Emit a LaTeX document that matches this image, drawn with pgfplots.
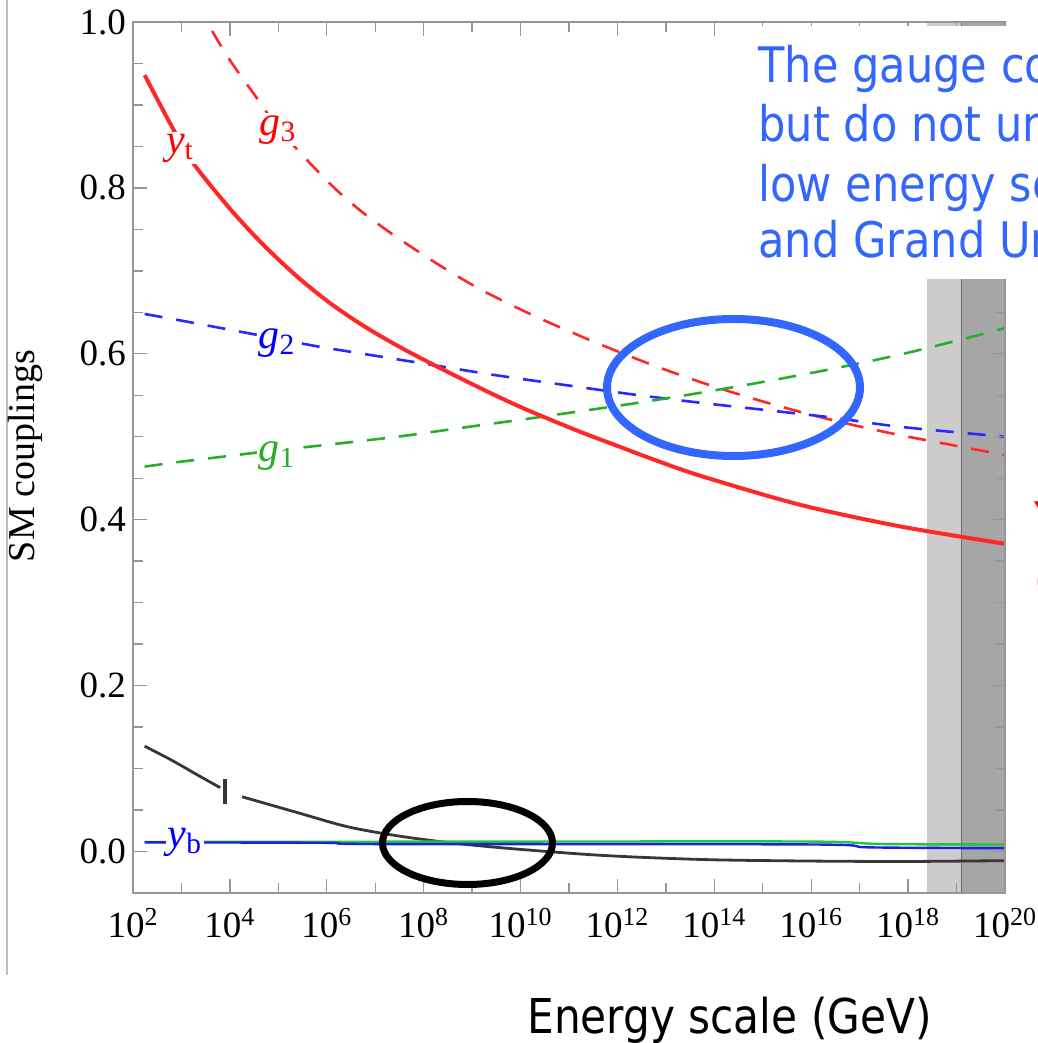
\documentclass[border=0pt]{standalone}
\usepackage{fontspec}
\setmainfont{Liberation Serif}
\newfontfamily\tahoma[FakeStretch=0.88]{DejaVu Sans}
\usepackage{pgfplots}
\pgfplotsset{compat=1.18}
\definecolor{cred}{RGB}{255,40,40}
\definecolor{cblue}{RGB}{40,40,255}
\definecolor{cgreen}{RGB}{40,175,40}
\definecolor{cblack}{RGB}{55,55,55}
\definecolor{ybcol}{RGB}{30,30,230}
\definecolor{gsolid}{RGB}{30,200,60}
\definecolor{annblue}{RGB}{51,102,255}
\definecolor{lightband}{RGB}{204,204,204}
\definecolor{darkband}{RGB}{166,166,166}
\definecolor{framecol}{RGB}{150,150,150}
\begin{document}
\begin{tikzpicture}
\useasboundingbox (0,0) rectangle (519bp,521.5bp);
\draw[color={rgb,255:red,190;green,190;blue,190}, line width=1bp] (3.5bp,521.5bp) -- (3.5bp,34bp);
\begin{axis}[
  at={(66.5bp,75bp)}, anchor=south west, scale only axis,
  width=436bp, height=435.5bp,
  xmin=2, xmax=20, ymin=-0.05, ymax=1.0,
  xtick={2,4,6,8,10,12,14,16,18,20},
  xticklabels={10\textsuperscript{2},10\textsuperscript{4},10\textsuperscript{6},10\textsuperscript{8},10\textsuperscript{10},10\textsuperscript{12},10\textsuperscript{14},10\textsuperscript{16},10\textsuperscript{18},10\textsuperscript{20}},
  minor xtick={3,5,7,9,11,13,15,17,19},
  ytick={0,0.2,0.4,0.6,0.8,1.0},
  yticklabels={0.0,0.2,0.4,0.6,0.8,1.0},
  minor ytick={0.05,0.1,0.15,0.25,0.3,0.35,0.45,0.5,0.55,0.65,0.7,0.75,0.85,0.9,0.95},
  tick align=inside,
  major tick length=7bp, minor tick length=5bp,
  tick style={color=framecol, line width=0.7bp},
  axis line style={color=framecol, line width=1bp},
  ticklabel style={font=\fontsize{18.5bp}{20bp}\selectfont},
  xticklabel style={yshift=-4bp},
  axis on top,
]
% Planck-scale bands
\addplot[fill=lightband, draw=none] coordinates {(18.4,-0.05) (19.1,-0.05) (19.1,1.0) (18.4,1.0)} -- cycle;
\addplot[fill=darkband, draw=none] coordinates {(19.1,-0.05) (20,-0.05) (20,1.0) (19.1,1.0)} -- cycle;
\addplot[color=gray!85!black, line width=0.8bp] coordinates {(19.1,-0.05) (19.1,1.0)};
% g3
\addplot[cred, smooth, line width=1.3bp, dash pattern=on 9bp off 7bp] coordinates {
(2.24,1.164) (2.6,1.115) (3.0,1.062) (3.53,1.0) (4.00,0.954) (4.56,0.908) (5.0,0.872)
(5.65,0.830) (6.21,0.797) (6.75,0.770) (7.31,0.746) (7.92,0.722) (8.54,0.699)
(9.16,0.678) (9.84,0.658) (10.46,0.641) (11.17,0.623) (11.70,0.610) (12.7,0.587)
(13.71,0.566) (14.74,0.547) (15.77,0.530) (16.8,0.515) (17.83,0.502) (19.0,0.489) (20,0.478)};
% g2
\addplot[cblue, smooth, line width=1.3bp, dash pattern=on 9bp off 7bp] coordinates {
(2.24,0.648) (3.0,0.640) (4.00,0.629) (5.0,0.618) (5.80,0.609) (6.75,0.600)
(8.13,0.587) (9.51,0.574) (10.96,0.562) (12.32,0.551) (13.71,0.541) (15.09,0.532)
(16.45,0.523) (17.83,0.512) (20,0.500)};
% g1
\addplot[cgreen, smooth, line width=1.3bp, dash pattern=on 9bp off 7bp] coordinates {
(2.24,0.464) (3.0,0.470) (4.00,0.477) (5.0,0.484) (5.80,0.489) (7.45,0.500)
(8.81,0.511) (10.19,0.522) (11.02,0.529) (12.32,0.540) (13.71,0.553) (15.09,0.567)
(16.45,0.582) (17.83,0.599) (19.22,0.619) (20,0.631)};
% yt
\addplot[cred, smooth, line width=2bp] coordinates {
(2.24,0.936) (2.81,0.873) (3.24,0.830) (4.00,0.775) (4.68,0.732) (5.39,0.693)
(6.07,0.661) (6.75,0.634) (7.45,0.610) (8.13,0.589) (8.81,0.569) (9.51,0.549)
(10.19,0.531) (11.23,0.506) (12.0,0.489) (12.68,0.474) (13.71,0.453) (15.77,0.418)
(17.83,0.392) (20,0.371)};
% lambda
\addplot[cblack, smooth, line width=1.4bp] coordinates {
(2.24,0.127) (2.8,0.110) (3.4,0.090) (3.80,0.077)};
\addplot[cblack, smooth, line width=1.4bp] coordinates {
(4.25,0.066) (5.39,0.047) (6.42,0.030) (7.45,0.019) (8.48,0.011) (9.51,0.005)
(10.55,0.000) (11.5,-0.004) (12.5,-0.007) (14,-0.010) (16,-0.0115) (18,-0.012) (20,-0.011)};
% green solid
\addplot[gsolid, smooth, line width=1.2bp] coordinates {
(2.24,0.0115) (10,0.012) (16,0.012) (17.5,0.009) (20,0.0085)};
% yb
\addplot[ybcol, smooth, line width=1.2bp] coordinates {
(2.24,0.011) (6,0.0105) (7,0.009) (16,0.0085) (17.2,0.005) (20,0.004)};
% curve labels
\node[fill=white, inner sep=1bp, text=red, font=\fontsize{21bp}{21bp}\selectfont] at (axis cs:4.99,0.870) {\textit{g}\textsubscript{3}};
\node[fill=white, inner sep=1bp, text=red, font=\fontsize{21bp}{21bp}\selectfont] at (axis cs:2.97,0.848) {\textit{y}\textsubscript{t}};
\node[fill=white, inner sep=1bp, text=blue, font=\fontsize{21bp}{21bp}\selectfont] at (axis cs:4.97,0.613) {\textit{g}\textsubscript{2}};
\node[fill=white, inner sep=1bp, text=cgreen, font=\fontsize{21bp}{21bp}\selectfont] at (axis cs:4.97,0.477) {\textit{g}\textsubscript{1}};
\node[fill=white, inner sep=1bp, text=blue, font=\fontsize{21bp}{21bp}\selectfont] at (axis cs:3.07,0.011) {\textit{y}\textsubscript{b}};
\node[inner sep=0, text=cblack] at (axis cs:3.9,0.072) {\rule{1.8bp}{12.5bp}};
\end{axis}
% y label
\node[rotate=90, font=\fontsize{19bp}{20bp}\selectfont] at (12.5bp,293.5bp) {SM couplings};
% annotation ellipses
\draw[annblue, line width=4bp] (366.75bp,327.75bp) ellipse [x radius=63.25bp, y radius=34.25bp];
\draw[black, line width=3.5bp] (233.75bp,100bp) ellipse [x radius=42.5bp, y radius=20.75bp];
% white text box
\fill[white] (372.5bp,382bp) rectangle (530bp,508.5bp);
\begin{scope}[every node/.style={anchor=base west, inner sep=0, text=annblue, font=\tahoma\fontsize{24.5bp}{29bp}\selectfont}]
\node at (379bp,480bp) {The gauge couplings converge};
\node at (379bp,450.5bp) {but do not unify without};
\node at (379bp,420.5bp) {low energy scale SUSY};
\node at (379bp,392.5bp) {and Grand Unification};
\end{scope}
\begin{scope}[every node/.style={anchor=base west, inner sep=0, text=red, font=\tahoma\fontsize{24.5bp}{29bp}\selectfont}]
\node at (517bp,252.5bp) {Yukawa couplings};
\node at (517bp,222.5bp) {(top quark)};
\end{scope}
\node[anchor=base west, inner sep=0, font=\tahoma\fontsize{24bp}{29bp}\selectfont] at (263.5bp,5bp) {Energy scale (GeV)};
\end{tikzpicture}
\end{document}
